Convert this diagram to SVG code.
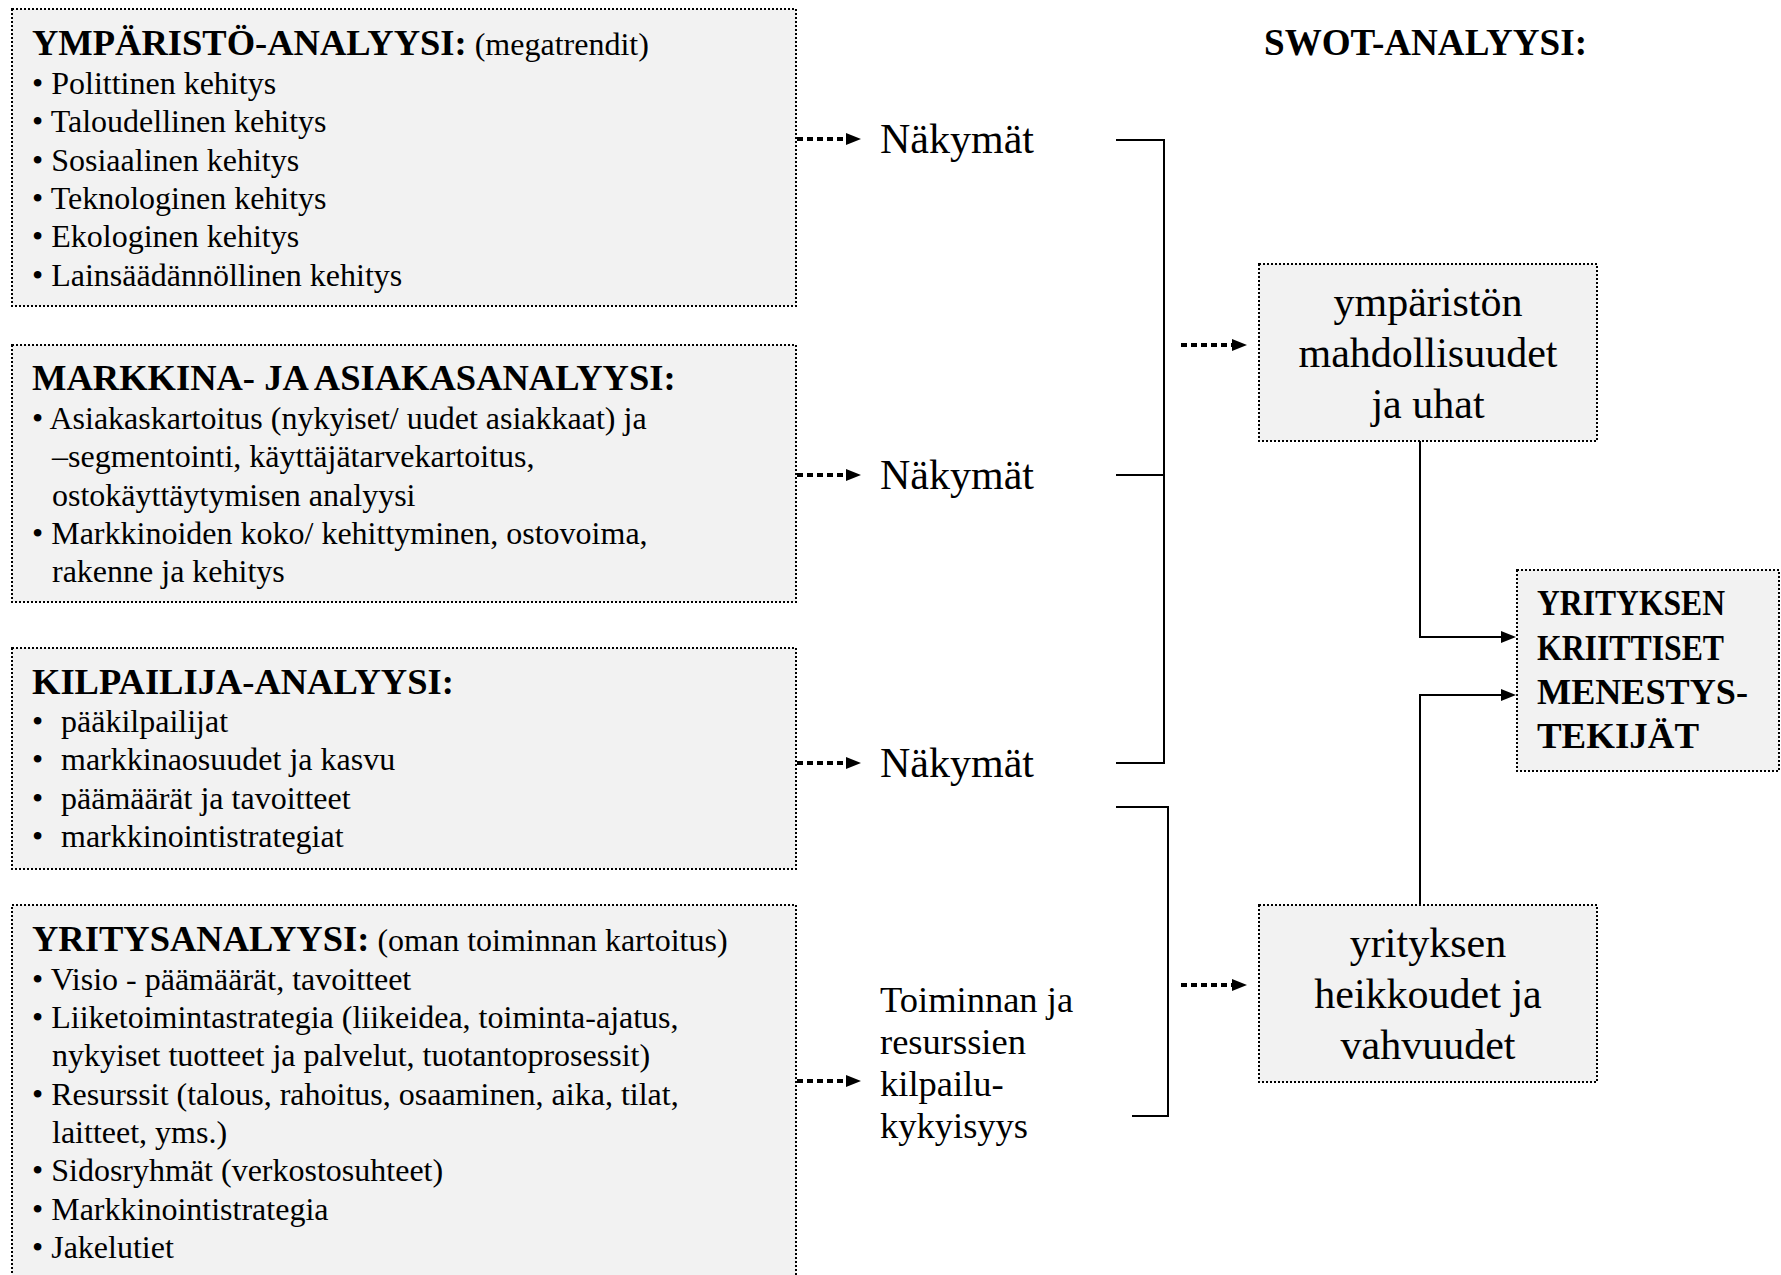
<svg xmlns="http://www.w3.org/2000/svg" width="1781" height="1275" viewBox="0 0 1781 1275">
<defs>
<style>
.box{fill:#f2f2f2;stroke:#000;stroke-width:2;stroke-dasharray:2 2}
.t{font-family:"Liberation Serif","Times New Roman",serif;fill:#000}
.title{font-size:36.5px;font-weight:bold}
.body{font-size:32px}
.big{font-size:42px}
.mid{font-size:36.5px}
.bold{font-weight:bold}
.dot{stroke:#000;stroke-width:4;stroke-dasharray:6 4;fill:none}
.sol{stroke:#000;stroke-width:2;fill:none}
</style>
</defs>
<rect width="1781" height="1275" fill="#fff"/>

<g id="ymparisto">
<rect class="box" x="12" y="9" width="784" height="297"/>
<text class="t" x="32" y="55"><tspan class="title">YMPÄRISTÖ-ANALYYSI:</tspan><tspan class="body"> (megatrendit)</tspan></text>
<text class="t body" x="32" y="94">• Polittinen kehitys</text>
<text class="t body" x="32" y="132">• Taloudellinen kehitys</text>
<text class="t body" x="32" y="171">• Sosiaalinen kehitys</text>
<text class="t body" x="32" y="209">• Teknologinen kehitys</text>
<text class="t body" x="32" y="247">• Ekologinen kehitys</text>
<text class="t body" x="32" y="286">• Lainsäädännöllinen kehitys</text>
</g>

<g id="markkina">
<rect class="box" x="12" y="345" width="784" height="257"/>
<text class="t title" x="32" y="390">MARKKINA- JA ASIAKASANALYYSI:</text>
<text class="t body" x="32" y="429">• Asiakaskartoitus (nykyiset/ uudet asiakkaat) ja</text>
<text class="t body" x="52" y="467">–segmentointi, käyttäjätarvekartoitus,</text>
<text class="t body" x="52" y="506">ostokäyttäytymisen analyysi</text>
<text class="t body" x="32" y="544">• Markkinoiden koko/ kehittyminen, ostovoima,</text>
<text class="t body" x="52" y="582">rakenne ja kehitys</text>
</g>

<g id="kilpailija">
<rect class="box" x="12" y="648" width="784" height="221"/>
<text class="t title" x="32" y="694">KILPAILIJA-ANALYYSI:</text>
<text class="t body" x="32" y="732">•</text><text class="t body" x="61" y="732">pääkilpailijat</text>
<text class="t body" x="32" y="770">•</text><text class="t body" x="61" y="770">markkinaosuudet ja kasvu</text>
<text class="t body" x="32" y="809">•</text><text class="t body" x="61" y="809">päämäärät ja tavoitteet</text>
<text class="t body" x="32" y="847">•</text><text class="t body" x="61" y="847">markkinointistrategiat</text>
</g>

<g id="yritys">
<rect class="box" x="12" y="905" width="784" height="380"/>
<text class="t" x="32" y="951"><tspan class="title">YRITYSANALYYSI:</tspan><tspan class="body"> (oman toiminnan kartoitus)</tspan></text>
<text class="t body" x="32" y="990">• Visio - päämäärät, tavoitteet</text>
<text class="t body" x="32" y="1028">• Liiketoimintastrategia (liikeidea, toiminta-ajatus,</text>
<text class="t body" x="52" y="1066">nykyiset tuotteet ja palvelut, tuotantoprosessit)</text>
<text class="t body" x="32" y="1105">• Resurssit (talous, rahoitus, osaaminen, aika, tilat,</text>
<text class="t body" x="52" y="1143">laitteet, yms.)</text>
<text class="t body" x="32" y="1181">• Sidosryhmät (verkostosuhteet)</text>
<text class="t body" x="32" y="1220">• Markkinointistrategia</text>
<text class="t body" x="32" y="1258">• Jakelutiet</text>
</g>

<g id="nakymat1"><text class="t big" x="880" y="153">Näkymät</text></g>
<g id="nakymat2"><text class="t big" x="880" y="489">Näkymät</text></g>
<g id="nakymat3"><text class="t big" x="880" y="777">Näkymät</text></g>
<g id="toiminnan">
<text class="t mid" x="880" y="1012">Toiminnan ja</text>
<text class="t mid" x="880" y="1054">resurssien</text>
<text class="t mid" x="880" y="1096">kilpailu-</text>
<text class="t mid" x="880" y="1138">kykyisyys</text>
</g>

<g id="swot-heading"><text class="t bold" x="1264" y="55" font-size="38" textLength="323" lengthAdjust="spacingAndGlyphs">SWOT-ANALYYSI:</text></g>

<g id="mahdollisuudet">
<rect class="box" x="1259" y="264" width="338" height="177"/>
<text class="t big" x="1428" y="316" text-anchor="middle">ympäristön</text>
<text class="t big" x="1428" y="367" text-anchor="middle">mahdollisuudet</text>
<text class="t big" x="1428" y="418" text-anchor="middle">ja uhat</text>
</g>

<g id="heikkoudet">
<rect class="box" x="1259" y="905" width="338" height="177"/>
<text class="t big" x="1428" y="957" text-anchor="middle">yrityksen</text>
<text class="t big" x="1428" y="1008" text-anchor="middle">heikkoudet ja</text>
<text class="t big" x="1428" y="1059" text-anchor="middle">vahvuudet</text>
</g>

<g id="kriittiset">
<rect class="box" x="1517" y="570" width="262" height="201"/>
<text class="t bold" x="1537" y="615" font-size="35" textLength="188" lengthAdjust="spacingAndGlyphs">YRITYKSEN</text>
<text class="t bold" x="1537" y="660" font-size="35" textLength="187" lengthAdjust="spacingAndGlyphs">KRIITTISET</text>
<text class="t bold" x="1537" y="704" font-size="35" textLength="211" lengthAdjust="spacingAndGlyphs">MENESTYS-</text>
<text class="t bold" x="1537" y="748" font-size="35" textLength="162" lengthAdjust="spacingAndGlyphs">TEKIJÄT</text>
</g>

<g id="connectors">
<line class="dot" x1="797" y1="139" x2="846" y2="139"/><polygon points="846,133 861,139 846,145"/>
<line class="dot" x1="797" y1="475" x2="846" y2="475"/><polygon points="846,469 861,475 846,481"/>
<line class="dot" x1="797" y1="763" x2="846" y2="763"/><polygon points="846,757 861,763 846,769"/>
<line class="dot" x1="797" y1="1081" x2="846" y2="1081"/><polygon points="846,1075 861,1081 846,1087"/>
<path class="sol" d="M1116 140 H1164 V763 H1116 M1116 475 H1164"/>
<path class="sol" d="M1116 807 H1168 V1116 H1132"/>
<line class="dot" x1="1181" y1="345" x2="1232" y2="345"/><polygon points="1232,339 1247,345 1232,351"/>
<line class="dot" x1="1181" y1="985" x2="1232" y2="985"/><polygon points="1232,979 1247,985 1232,991"/>
<path class="sol" d="M1420 441 V637 H1502"/><polygon points="1501,631 1516,637 1501,643"/>
<path class="sol" d="M1420 905 V695 H1502"/><polygon points="1501,689 1516,695 1501,701"/>
</g>
</svg>
